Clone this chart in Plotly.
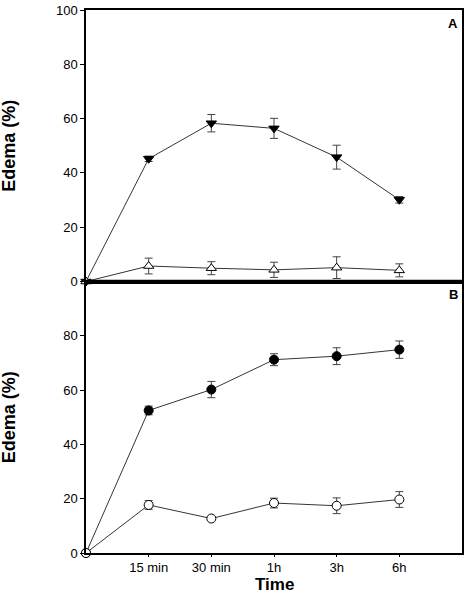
import plotly.graph_objects as go

# ---- data ----
time_labels = ["15 min", "30 min", "1h", "3h", "6h"]
x_pos = [0, 1, 2, 3, 4, 5]

# Panel A
a_filled = [0, 45.2, 58.3, 56.4, 45.8, 30.1]
a_filled_err = [0, 1.0, 3.2, 3.7, 4.4, 1.2]
a_open = [0, 5.7, 4.9, 4.3, 5.1, 4.1]
a_open_err = [0, 2.9, 2.4, 2.8, 4.0, 2.4]

# Panel B
b_filled = [0, 52.5, 60.2, 71.2, 72.5, 74.9]
b_filled_err = [0, 1.6, 3.0, 2.2, 3.1, 3.2]
b_open = [0, 17.7, 12.7, 18.4, 17.4, 19.7]
b_open_err = [0, 1.6, 0.7, 1.8, 2.9, 2.9]

FONT = "Liberation Sans, Arial, sans-serif"
ERRC = "#444444"

W, H = 467, 595
ML, MR, MT, MB = 86, 3, 6, 42
PW, PH = W - ML - MR, H - MT - MB

fig = go.Figure()

def add(y, err, symbol, fill, size, xa, ya):
    fig.add_trace(go.Scatter(
        x=x_pos, y=y, xaxis=xa, yaxis=ya, mode="lines+markers",
        line=dict(color="black", width=0.8),
        marker=dict(symbol=symbol, size=size, color=fill,
                    line=dict(color="black", width=1)),
        error_y=dict(type="data", array=err, visible=True,
                     color=ERRC, thickness=1, width=4),
        cliponaxis=False, showlegend=False))

add(a_filled, a_filled_err, "triangle-down", "black", 9, "x", "y")
add(a_open, a_open_err, "triangle-up", "white", 9, "x", "y")
add(b_filled, b_filled_err, "circle", "black", 9, "x2", "y2")
add(b_open, b_open_err, "circle", "white", 9, "x2", "y2")

axis_common = dict(showline=True, mirror=True, linecolor="black", linewidth=1.5,
                   showgrid=False, zeroline=False,
                   tickfont=dict(family=FONT, size=13, color="black"))

fig.update_layout(
    width=W, height=H,
    margin=dict(l=ML, r=MR, t=MT, b=MB),
    paper_bgcolor="white", plot_bgcolor="white",
    xaxis=dict(domain=[0, 1], range=[0, 6], anchor="y",
               showticklabels=False, ticks="", **axis_common),
    yaxis=dict(domain=[0.5, 1], range=[0, 100], anchor="x",
               tickvals=[0, 20, 40, 60, 80, 100], ticks="outside", ticklen=4,
               tickcolor="black", ticklabeloverflow="allow",
               **axis_common),
    xaxis2=dict(domain=[0, 1], range=[0, 6], anchor="y2",
                tickvals=x_pos[1:], ticktext=time_labels,
                ticks="outside", ticklen=2, tickcolor="black",
                **axis_common),
    yaxis2=dict(domain=[0, 0.5], range=[0, 100], anchor="x2",
                tickvals=[0, 20, 40, 60, 80], ticks="outside", ticklen=4,
                tickcolor="black",
                **axis_common),
)

# thick shared boundary line between panels
fig.add_shape(type="line", xref="paper", yref="paper", x0=0, x1=1, y0=0.5, y1=0.5,
              line=dict(color="black", width=3.5))

# axis titles as annotations for exact placement
title_x = (8.5 - ML) / PW
for yc in (0.75, 0.25):
    fig.add_annotation(text="<b>Edema (%)</b>", xref="paper", yref="paper",
                       x=title_x, y=yc, xanchor="center", yanchor="middle",
                       textangle=-90, showarrow=False,
                       font=dict(family=FONT, size=18, color="black"))
fig.add_annotation(text="<b>Time</b>", xref="paper", yref="paper",
                   x=(276 - ML) / PW, y=-(595 - (H - MB)) / PH,
                   xanchor="center", yanchor="bottom", showarrow=False,
                   borderpad=0,
                   font=dict(family=FONT, size=17, color="black"))

fig.add_annotation(text="<b>A</b>", xref="paper", yref="paper", x=0.995, y=0.993,
                   xanchor="right", yanchor="top", showarrow=False,
                   font=dict(family=FONT, size=13, color="black"))
fig.add_annotation(text="<b>B</b>", xref="paper", yref="paper", x=0.995, y=0.493,
                   xanchor="right", yanchor="top", showarrow=False,
                   font=dict(family=FONT, size=13, color="black"))

fig.write_html("out.html", config={"displayModeBar": False})

# remove default page margin so the figure sits at the window origin
with open("out.html", "r", encoding="utf-8") as f:
    html = f.read()
html = html.replace("<head>", "<head><style>html,body{margin:0;padding:0;overflow:hidden}</style>", 1)
with open("out.html", "w", encoding="utf-8") as f:
    f.write(html)
